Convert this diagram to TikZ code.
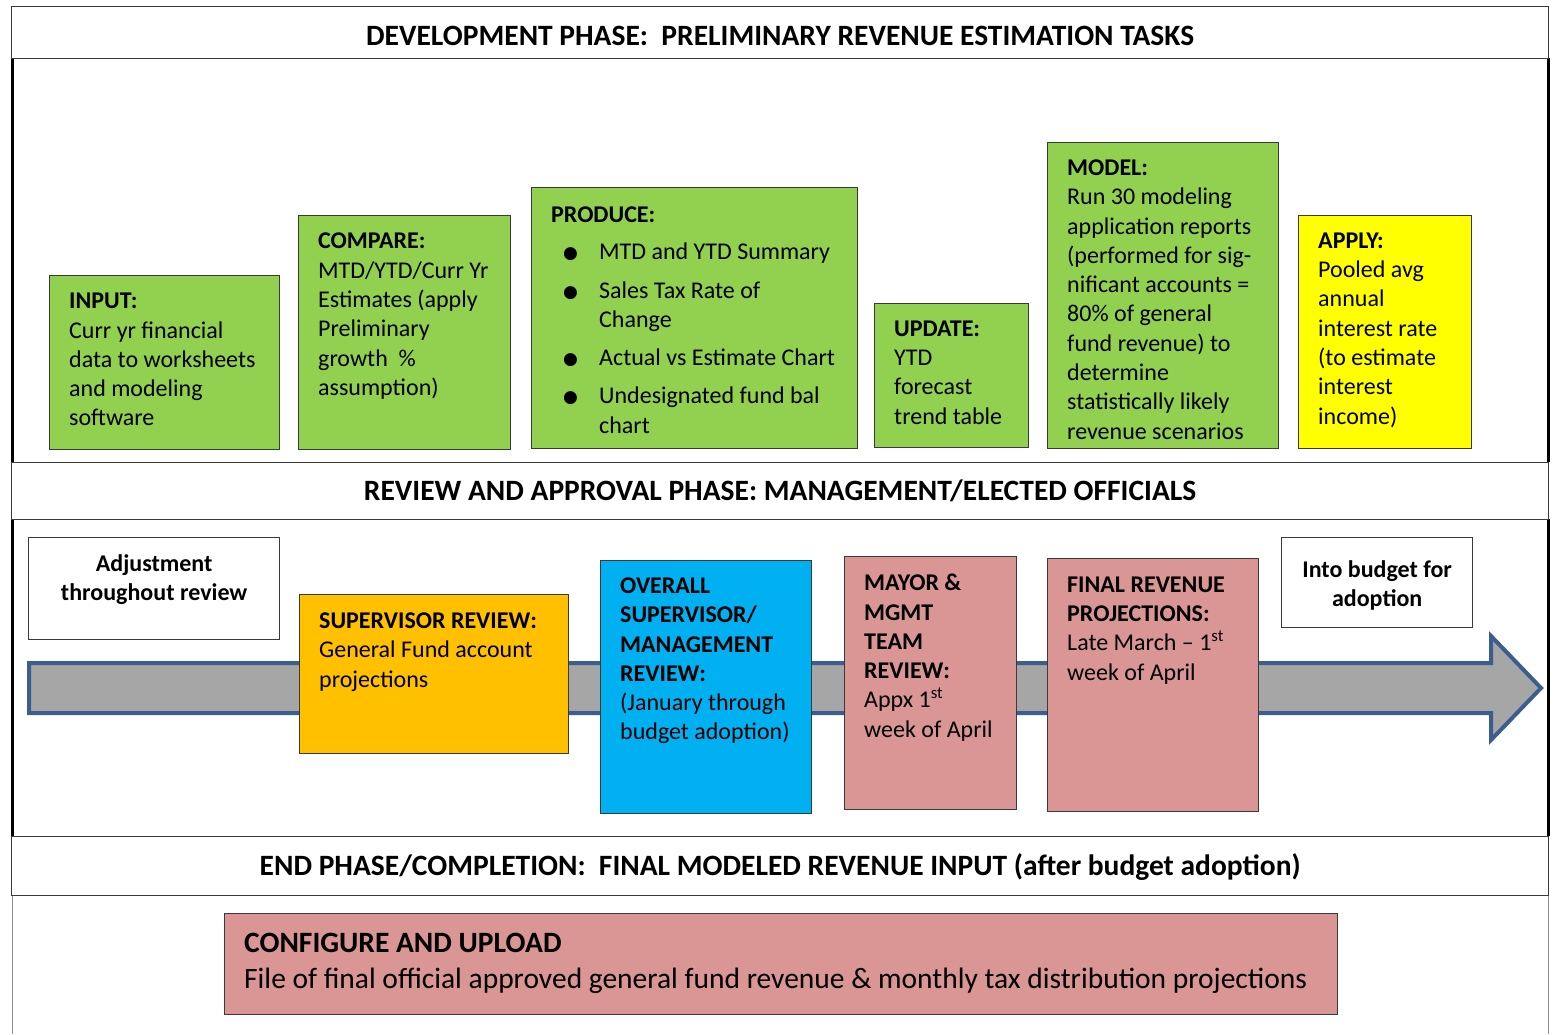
\documentclass[tikz,border=0pt]{standalone}
\usepackage{fontspec}
\setmainfont{Carlito}
\newfontfamily\dingfont{DejaVu Sans}
\usetikzlibrary{calc}
\definecolor{leaf}{HTML}{92D050}
\definecolor{lemon}{HTML}{FFFF00}
\definecolor{amber}{HTML}{FFC000}
\definecolor{sky}{HTML}{00B0F0}
\definecolor{rose}{HTML}{D99694}
\definecolor{shaft}{HTML}{A6A6A6}
\definecolor{shaftedge}{HTML}{3A5F8E}
\definecolor{edge}{HTML}{3A3A3A}
% bullet item marker for the PRODUCE list
\newcommand{\itemdot}{\makebox[48pt][l]{\hspace{12pt}\raisebox{1pt}{\dingfont\fontsize{17}{17}\selectfont ●}}}
% heading text lowered without changing its box
\newcommand{\lowered}[2]{\raisebox{-#1}[\height][\depth]{#2}}
\begin{document}
\begin{tikzpicture}[x=1pt,y=-1pt,
  box/.style={draw=edge, line width=1.3pt, anchor=north west, inner sep=0pt},
  phase/.style={box, fill=white, minimum width=1537pt, font=\fontsize{29.5}{36}\selectfont\bfseries},
  body/.style={anchor=north west, inner sep=0pt, align=left, font=\fontsize{24}{29.3}\selectfont, execute at begin node=\strut},
  tag/.style={anchor=north, inner sep=0pt, align=center, font=\fontsize{24}{29.3}\selectfont\bfseries, execute at begin node=\strut},
  side/.style={line width=3pt, black},
  thinside/.style={line width=1pt, black!45}]
\useasboundingbox (0,0) rectangle (1553,1034);
\fill[white] (0,0) rectangle (1553,1034);

% side borders of the three phase panels
\draw[side] (12.5,58) -- (12.5,462);
\draw[side] (1548,58) -- (1548,462);
\draw[side] (12.5,519) -- (12.5,836);
\draw[side] (1548,519) -- (1548,836);
\draw[thinside] (12,895) -- (12,1034);
\draw[thinside] (1548,895) -- (1548,1034);

% phase headings
\node[phase, minimum height=52pt] (devhdr) at (11,6) {\lowered{3pt}{DEVELOPMENT PHASE:\ \ PRELIMINARY REVENUE ESTIMATION TASKS}};
\node[phase, minimum height=57pt] (revhdr) at (11,462) {REVIEW AND APPROVAL PHASE: MANAGEMENT/ELECTED OFFICIALS};
\node[phase, minimum height=59pt] (endhdr) at (11,836) {\lowered{1pt}{END PHASE/COMPLETION:\ \ FINAL MODELED REVENUE INPUT (after budget adoption)}};

% development tasks
\node[box, fill=leaf, minimum width=230pt, minimum height=174pt] (input) at (49,275) {};
\node[body] (inputtxt) at ($(input.north west)+(20,18)$)
  {\textbf{INPUT:}\\Curr yr financial\\data to worksheets\\and modeling\\software};

\node[box, fill=leaf, minimum width=212pt, minimum height=234pt] (compare) at (298,215) {};
\node[body] (comparetxt) at ($(compare.north west)+(20,18)$)
  {\textbf{COMPARE:}\\MTD/YTD/Curr Yr\\Estimates (apply\\Preliminary\\growth\ \ \%\\assumption)};

\node[box, fill=leaf, minimum width=326pt, minimum height=261pt] (produce) at (531,187) {};
\node[body] (producetxt) at ($(produce.north west)+(20,19.5)$)
  {\textbf{PRODUCE:}\\[8pt]
   \itemdot MTD and YTD Summary\\[9pt]
   \itemdot Sales Tax Rate of\\
   \hspace*{48pt}Change\\[9pt]
   \itemdot Actual vs Estimate Chart\\[9pt]
   \itemdot Undesignated fund bal\\
   \hspace*{48pt}chart};

\node[box, fill=leaf, minimum width=154pt, minimum height=144pt] (update) at (874,303) {};
\node[body] (updatetxt) at ($(update.north west)+(20,17.5)$)
  {\textbf{UPDATE:}\\YTD\\forecast\\trend table};

\node[box, fill=leaf, minimum width=231pt, minimum height=306pt] (model) at (1047,142) {};
\node[body] (modeltxt) at ($(model.north west)+(20,17.5)$)
  {\textbf{MODEL:}\\Run 30 modeling\\application reports\\(performed for sig-\\nificant accounts =\\80\% of general\\fund revenue) to\\determine\\statistically likely\\revenue scenarios};

\node[box, fill=lemon, minimum width=173pt, minimum height=233pt] (apply) at (1298,215) {};
\node[body] (applytxt) at ($(apply.north west)+(20,17.5)$)
  {\textbf{APPLY:}\\Pooled avg\\annual\\interest rate\\(to estimate\\interest\\income)};

% review timeline arrow
\draw[fill=shaft, draw=shaftedge, line width=4pt, line join=miter]
  (29,663) -- (1491,663) -- (1491,636) -- (1541,688) -- (1491,740) -- (1491,713) -- (29,713) -- cycle;

% review steps
\node[box, fill=white, minimum width=251pt, minimum height=102pt] (adjust) at (28,537) {};
\node[tag] (adjusttxt) at ($(adjust.north)+(0,17.5)$) {Adjustment\\throughout review};

\node[box, fill=amber, minimum width=269pt, minimum height=159pt] (supervisor) at (299,594) {};
\node[body] (supervisortxt) at ($(supervisor.north west)+(20,18.5)$)
  {\textbf{SUPERVISOR REVIEW:}\\General Fund account\\projections};

\node[box, fill=sky, minimum width=211pt, minimum height=253pt] (overall) at (600,560) {};
\node[body] (overalltxt) at ($(overall.north west)+(20,17.5)$)
  {\textbf{OVERALL}\\\textbf{SUPERVISOR/}\\\textbf{MANAGEMENT}\\\textbf{REVIEW:}\\(January through\\budget adoption)};

\node[box, fill=rose, minimum width=172pt, minimum height=253pt] (mayor) at (844,556) {};
\node[body] (mayortxt) at ($(mayor.north west)+(20,18)$)
  {\textbf{MAYOR \&}\\\textbf{MGMT}\\\textbf{TEAM}\\\textbf{REVIEW:}\\Appx 1\textsuperscript{st}\\week of April};

\node[box, fill=rose, minimum width=211pt, minimum height=253pt] (final) at (1047,558) {};
\node[body] (finaltxt) at ($(final.north west)+(20,18.5)$)
  {\textbf{FINAL REVENUE}\\\textbf{PROJECTIONS:}\\Late March -- 1\textsuperscript{st}\\week of April};

\node[box, fill=white, minimum width=191pt, minimum height=90pt] (budget) at (1281,537) {};
\node[tag] (budgettxt) at ($(budget.north)+(0,23.5)$) {Into budget for\\adoption};

% completion step
\node[box, fill=rose, minimum width=1113pt, minimum height=101pt] (upload) at (224,913) {};
\node[body, font=\fontsize{29.5}{36.5}\selectfont] (uploadtxt) at ($(upload.north west)+(20,19.5)$)
  {\textbf{CONFIGURE AND UPLOAD}\\File of final official approved general fund revenue \& monthly tax distribution projections};
\end{tikzpicture}
\end{document}
